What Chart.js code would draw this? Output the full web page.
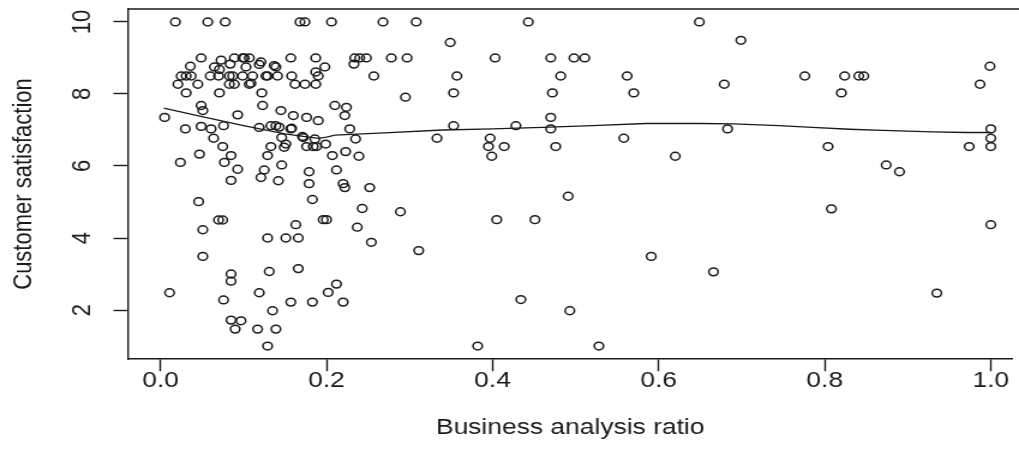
<!DOCTYPE html>
<html>
<head>
<meta charset="utf-8">
<script src="https://cdn.jsdelivr.net/npm/chart.js@4.4.1/dist/chart.umd.min.js"></script>
<style>
  html, body { margin: 0; padding: 0; background: #fff; overflow: hidden; }
</style>
</head>
<body>
<!-- drawn 849 wide and widened by css: the reference is stretched sideways -->
<canvas id="plot" width="849" height="470" style="width:1019px;height:470px"></canvas>
<script>
const ratio = [
    0.018, 0.057, 0.078, 0.049, 0.073, 0.089, 0.084, 0.099, 0.036, 0.065, 0.071,
    0.025, 0.031, 0.037, 0.060, 0.070, 0.083, 0.087, 0.099, 0.021, 0.045, 0.083,
    0.089, 0.031, 0.071, 0.049, 0.051, 0.005, 0.093, 0.030, 0.049, 0.061, 0.076,
    0.064, 0.075, 0.047, 0.085, 0.024, 0.077, 0.093,
    0.085, 0.046, 0.070, 0.075, 0.051, 0.051, 0.085, 0.085, 0.011, 0.076, 0.085,
    0.097, 0.090,
    0.168, 0.174, 0.206, 0.268, 0.101, 0.107, 0.121, 0.103, 0.139, 0.119, 0.137,
    0.157, 0.187, 0.198, 0.187, 0.190, 0.234, 0.240, 0.248, 0.233, 0.111, 0.127,
    0.129, 0.141, 0.158, 0.257, 0.107, 0.109, 0.162, 0.174, 0.187, 0.122, 0.123,
    0.145, 0.160, 0.176, 0.190, 0.210, 0.224, 0.222, 0.119, 0.133, 0.139, 0.143,
    0.157, 0.158, 0.228, 0.146, 0.171, 0.172, 0.186, 0.235, 0.133, 0.151, 0.149,
    0.176, 0.184, 0.188, 0.199, 0.129, 0.207, 0.223, 0.239, 0.146, 0.125, 0.179,
    0.212,
    0.121, 0.142, 0.179, 0.220, 0.222, 0.252, 0.183, 0.243, 0.196, 0.200, 0.163,
    0.237, 0.129, 0.151, 0.166, 0.254, 0.131, 0.166, 0.119, 0.212, 0.202, 0.157,
    0.183, 0.220, 0.135, 0.117, 0.139, 0.129,
    0.308, 0.443, 0.349, 0.278, 0.297, 0.403, 0.470, 0.498, 0.511, 0.357, 0.482,
    0.562, 0.353, 0.472, 0.570, 0.295, 0.470, 0.353, 0.428, 0.470, 0.333, 0.397,
    0.395, 0.414, 0.476, 0.558, 0.399, 0.620,
    0.289, 0.311, 0.405, 0.451, 0.491, 0.591, 0.434, 0.493, 0.382, 0.528,
    0.649, 0.699, 0.679, 0.776, 0.824, 0.841, 0.847, 0.820, 0.999, 0.987, 0.683,
    0.804, 0.874, 0.890, 0.974, 1.000, 1.000, 1.000,
    0.808, 1.000, 0.666, 0.935
];
const satisfaction = [
    10, 10, 10, 9.0, 8.94, 9.0, 8.83, 9.0, 8.77, 8.75, 8.68,
    8.5, 8.5, 8.5, 8.5, 8.5, 8.5, 8.5, 8.5, 8.27, 8.27, 8.27,
    8.27, 8.03, 8.03, 7.68, 7.54, 7.35, 7.42, 7.03, 7.10, 7.03, 7.12,
    6.77, 6.54, 6.33, 6.29, 6.10, 6.10, 5.91,
    5.60, 5.01, 4.50, 4.50, 4.23, 3.49, 3.00, 2.80, 2.48, 2.28, 1.72,
    1.70, 1.47,
    10, 10, 10, 10, 9.0, 9.0, 8.89, 8.75, 8.75, 8.82, 8.79,
    9.0, 9.0, 8.75, 8.61, 8.50, 9.0, 9.0, 9.0, 8.83, 8.5, 8.5,
    8.5, 8.5, 8.5, 8.5, 8.27, 8.30, 8.27, 8.27, 8.27, 8.03, 7.68,
    7.54, 7.40, 7.35, 7.26, 7.68, 7.63, 7.40, 7.07, 7.12, 7.12, 7.08,
    7.03, 7.05, 7.03, 6.79, 6.82, 6.79, 6.75, 6.75, 6.54, 6.61, 6.52,
    6.54, 6.54, 6.54, 6.61, 6.29, 6.29, 6.40, 6.27, 6.03, 5.89, 5.84,
    5.89,
    5.68, 5.59, 5.51, 5.51, 5.40, 5.40, 5.07, 4.82, 4.51, 4.51, 4.37,
    4.30, 4.00, 4.00, 4.00, 3.88, 3.07, 3.15, 2.48, 2.72, 2.49, 2.22,
    2.22, 2.22, 1.98, 1.47, 1.47, 1.00,
    10, 10, 9.43, 9.0, 9.0, 9.0, 9.0, 9.0, 9.0, 8.5, 8.5,
    8.5, 8.03, 8.03, 8.03, 7.91, 7.35, 7.12, 7.12, 7.03, 6.77, 6.77,
    6.54, 6.54, 6.54, 6.77, 6.27, 6.27,
    4.73, 3.65, 4.51, 4.51, 5.16, 3.49, 2.29, 1.98, 1.00, 1.00,
    10, 9.49, 8.27, 8.5, 8.5, 8.5, 8.5, 8.03, 8.77, 8.27, 7.03,
    6.54, 6.03, 5.84, 6.54, 7.03, 6.77, 6.54,
    4.81, 4.37, 3.06, 2.47
];

// smoothed line
const fitRatio = [0.004, 0.05, 0.1, 0.15, 0.19, 0.2, 0.21, 0.27, 0.34, 0.4, 0.46,
    0.52, 0.585, 0.65, 0.69, 0.745, 0.785, 0.83, 0.87, 0.93, 0.97, 1.0];
const fitSatisfaction = [7.61, 7.37, 7.12, 6.89, 6.77, 6.8, 6.86, 6.92, 7.0, 7.03, 7.07,
    7.12, 7.18, 7.18, 7.17, 7.12, 7.07, 7.02, 6.99, 6.95, 6.93, 6.93];

const xTicks = [0, 0.2, 0.4, 0.6, 0.8, 1.0];
const yTicks = [2, 4, 6, 8, 10];

const ink = '#1a1a1a';
Chart.defaults.font.family = '"Liberation Sans", Arial, sans-serif';
Chart.defaults.font.size = 22;
Chart.defaults.color = ink;

// R draws a box round the plot; the right side is cut off in the reference
const frameTop = {
    id: 'frameTop',
    afterDatasetsDraw(chart) {
        const { ctx, chartArea } = chart;
        ctx.save();
        ctx.strokeStyle = ink;
        ctx.lineWidth = 1.4;
        ctx.beginPath();
        ctx.moveTo(chartArea.left, chartArea.top);
        ctx.lineTo(chart.width, chartArea.top);
        ctx.stroke();
        ctx.restore();
    }
};

const points = ratio.map((x, i) => ({ x: x, y: satisfaction[i] }));
const fit = fitRatio.map((x, i) => ({ x: x, y: fitSatisfaction[i] }));

new Chart(document.getElementById('plot'), {
    type: 'scatter',
    data: {
        datasets: [{
            data: points,
            pointStyle: 'circle',
            pointRadius: 3.9,
            borderWidth: 1.5,
            borderColor: ink,
            backgroundColor: 'rgba(0,0,0,0)'
        }, {
            type: 'line',
            data: fit,
            showLine: true,
            borderColor: ink,
            borderWidth: 1.3,
            pointRadius: 0,
            fill: false,
            tension: 0
        }]
    },
    options: {
        responsive: false,
        animation: false,
        devicePixelRatio: 1,
        layout: { padding: { left: 0, top: 9, right: 0.7, bottom: 0 } },
        plugins: { legend: { display: false }, tooltip: { enabled: false } },
        scales: {
            x: {
                type: 'linear',
                min: -0.039,
                max: 1.026,
                afterBuildTicks: s => { s.ticks = xTicks.map(v => ({ value: v })); },
                afterFit: s => { s.height = 111; s.paddingLeft = 0; s.paddingRight = 0; },
                ticks: {
                    callback: v => v.toFixed(1),
                    padding: -3,
                    maxRotation: 0,
                    autoSkip: false
                },
                grid: { drawOnChartArea: false, tickLength: 12.2, tickColor: ink, tickWidth: 1.4 },
                border: { display: true, color: ink, width: 1.4 },
                title: {
                    display: true,
                    text: 'Business analysis ratio',
                    padding: { top: 0, bottom: 28.8 }
                }
            },
            y: {
                type: 'linear',
                min: 0.64,
                max: 10.36,
                afterBuildTicks: s => { s.ticks = yTicks.map(v => ({ value: v })); },
                afterFit: s => { s.width = 106.7; s.paddingTop = 0; s.paddingBottom = 0; },
                ticks: {
                    callback: v => String(v),
                    minRotation: 90,
                    maxRotation: 90,
                    crossAlign: 'center',
                    padding: 12.9,
                    autoSkip: false
                },
                grid: { drawOnChartArea: false, tickLength: 12.2, tickColor: ink, tickWidth: 1.4 },
                border: { display: true, color: ink, width: 1.4 },
                title: {
                    display: true,
                    text: 'Customer satisfaction',
                    padding: { top: 6.8, bottom: 0 }
                }
            }
        }
    },
    plugins: [frameTop]
});
</script>
</body>
</html>
